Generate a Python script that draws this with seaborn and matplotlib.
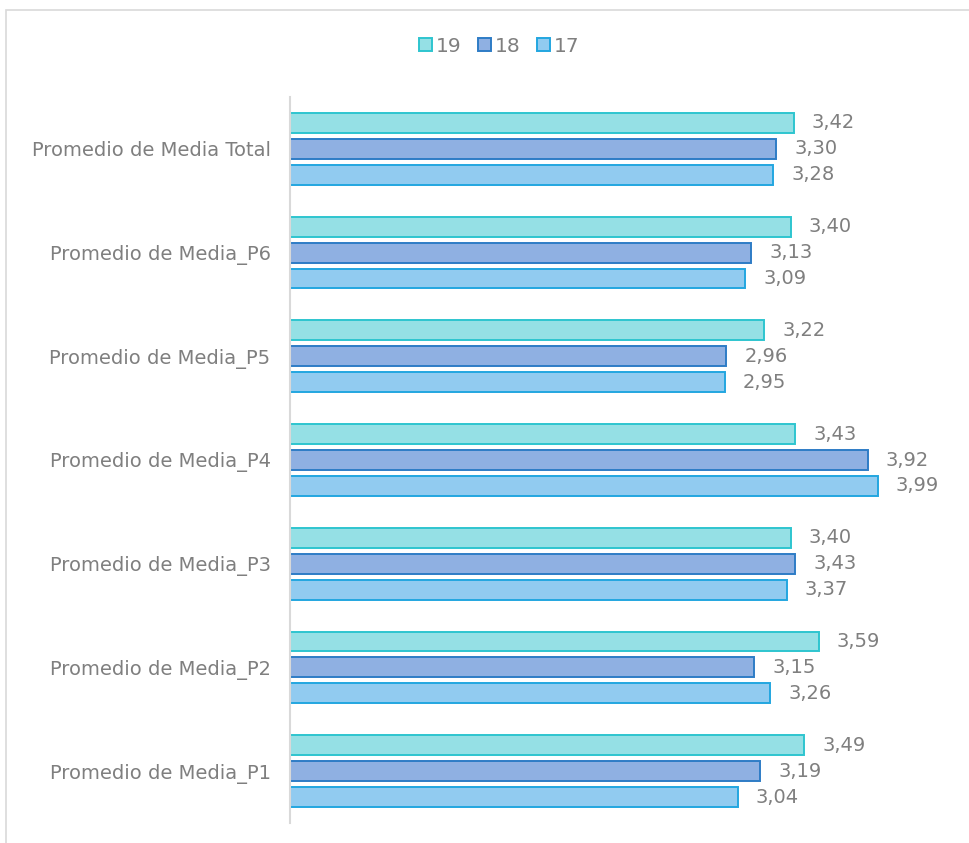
import matplotlib
matplotlib.use("Agg")
import matplotlib.pyplot as plt
import seaborn as sns
import pandas as pd
from matplotlib.patches import Rectangle

categories = ["Promedio de Media Total", "Promedio de Media_P6", "Promedio de Media_P5",
              "Promedio de Media_P4", "Promedio de Media_P3", "Promedio de Media_P2",
              "Promedio de Media_P1"]
series_names = ["19", "18", "17"]
values_19 = [3.42, 3.40, 3.22, 3.43, 3.40, 3.59, 3.49]
values_18 = [3.30, 3.13, 2.96, 3.92, 3.43, 3.15, 3.19]
values_17 = [3.28, 3.09, 2.95, 3.99, 3.37, 3.26, 3.04]

fills = {"19": "#95e0e5", "18": "#8fb0e2", "17": "#91cbf0"}
edges = {"19": "#2ec5cf", "18": "#2e7cc6", "17": "#22a6e0"}

rows = []
for name, vals in zip(series_names, [values_19, values_18, values_17]):
    for c, v in zip(categories, vals):
        rows.append({"cat": c, "serie": name, "val": v})
df = pd.DataFrame(rows)

sns.set_theme(style="white")
plt.rcParams["font.family"] = ["DejaVu Sans"]
text_color = "#7f7f7f"

fig = plt.figure(figsize=(9.69, 8.43), dpi=100)
W, H = 969, 843
ax = fig.add_axes([290 / W, 1 - 823 / H, (953 - 290) / W, (823 - 97) / H])

sns.barplot(data=df, y="cat", x="val", hue="serie", order=categories,
            hue_order=series_names, palette=fills, width=0.75, gap=0.23,
            saturation=1, orient="h", ax=ax, legend=False)

for container, name in zip(ax.containers, series_names):
    for bar in container:
        bar.set_edgecolor(edges[name])
        bar.set_linewidth(1.4)
    labels = [f"{b.get_width():.2f}".replace(".", ",") for b in container]
    ax.bar_label(container, labels=labels, padding=13, fontsize=14, color=text_color)

ax.set_xlim(0, 4.5)
ax.set_ylim(6.5, -0.5)
ax.set_xlabel("")
ax.set_ylabel("")
ax.set_xticks([])
ax.tick_params(axis="y", length=0, pad=14, labelsize=14, labelcolor=text_color)
for s in ["top", "right", "bottom"]:
    ax.spines[s].set_visible(False)
ax.spines["left"].set_color("#d9d9d9")
ax.spines["left"].set_linewidth(1.5)

# legend
handles = [Rectangle((0, 0), 1, 1, facecolor=fills[n], edgecolor=edges[n], linewidth=1.4)
           for n in series_names]
fig.legend(handles, series_names, loc="center", bbox_to_anchor=(0.515, 1 - 46 / H),
           ncol=3, frameon=False, fontsize=14.5, labelcolor=text_color,
           handlelength=0.65, handleheight=0.65, handletextpad=0.2, columnspacing=0.8)

# chart area border
fig.patches.append(Rectangle((6 / W, -0.1), 1.2, 1 - 10 / H + 0.1, transform=fig.transFigure,
                             facecolor="none", edgecolor="#d9d9d9", linewidth=1.2))

fig.savefig("out.png", dpi=100)
